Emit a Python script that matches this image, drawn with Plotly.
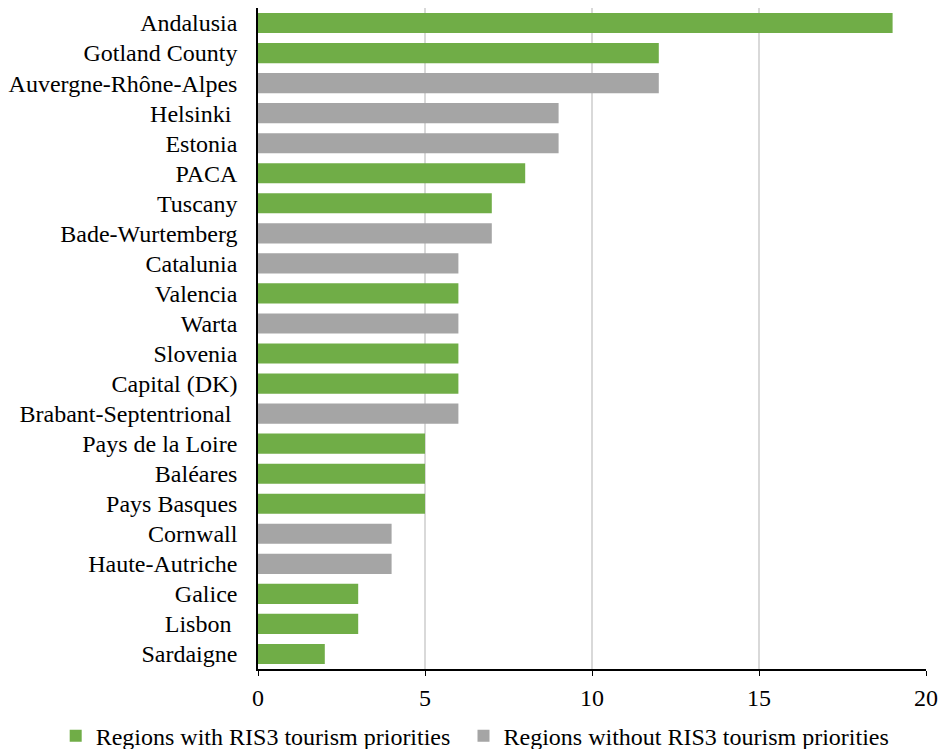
import plotly.graph_objects as go

categories = ["Andalusia", "Gotland County", "Auvergne-Rhône-Alpes", "Helsinki ", "Estonia", "PACA",
              "Tuscany", "Bade-Wurtemberg", "Catalunia", "Valencia", "Warta", "Slovenia",
              "Capital (DK)", "Brabant-Septentrional ", "Pays de la Loire", "Baléares",
              "Pays Basques", "Cornwall", "Haute-Autriche", "Galice", "Lisbon ", "Sardaigne"]
values = [19, 12, 12, 9, 9, 8, 7, 7, 6, 6, 6, 6, 6, 6, 5, 5, 5, 4, 4, 3, 3, 2]
with_ris3 = [True, True, False, False, False, True, True, False, False, True, False, True,
             True, False, True, True, True, False, False, True, True, True]
series_names = ["Regions with RIS3 tourism priorities", "Regions without RIS3 tourism priorities"]
colors = ["#70AD47", "#A5A5A5"]
x_ticks = [0, 5, 10, 15, 20]

FONT = "Liberation Serif"

fig = go.Figure()
for name, color, flag, leg in zip(series_names, colors, [True, False], ["legend", "legend2"]):
    ys = [c for c, f in zip(categories, with_ris3) if f == flag]
    xs = [v for v, f in zip(values, with_ris3) if f == flag]
    fig.add_trace(go.Bar(x=xs, y=ys, orientation="h", name=name, legend=leg,
                         marker=dict(color=color, line=dict(width=0)), width=0.67))

legend_common = dict(orientation="h", xref="container", yref="container",
                     xanchor="left", yanchor="middle", y=0.017,
                     font=dict(family=FONT, size=24, color="black"),
                     itemwidth=30, bgcolor="rgba(0,0,0,0)")

fig.update_layout(
    width=944, height=749,
    margin=dict(l=258, r=18, t=8, b=80, autoexpand=False),
    barmode="overlay",
    plot_bgcolor="white", paper_bgcolor="white",
    font=dict(family=FONT, size=24, color="black"),
    showlegend=True,
    legend=dict(x=0.059, **legend_common),
    legend2=dict(x=0.491, **legend_common),
)
fig.update_xaxes(range=[0, 20], tickvals=x_ticks, showgrid=True, gridcolor="#D9D9D9",
                 gridwidth=1.5, showline=True, linecolor="black", linewidth=1.5,
                 ticks="outside", ticklen=5, tickcolor="black", zeroline=False,
                 ticklabelstandoff=1)
fig.update_yaxes(type="category", categoryorder="array", categoryarray=categories[::-1],
                 showline=True, linecolor="black", linewidth=1.5, ticks="",
                 ticklabelstandoff=14, showgrid=False)

fig.write_html("out.html")
